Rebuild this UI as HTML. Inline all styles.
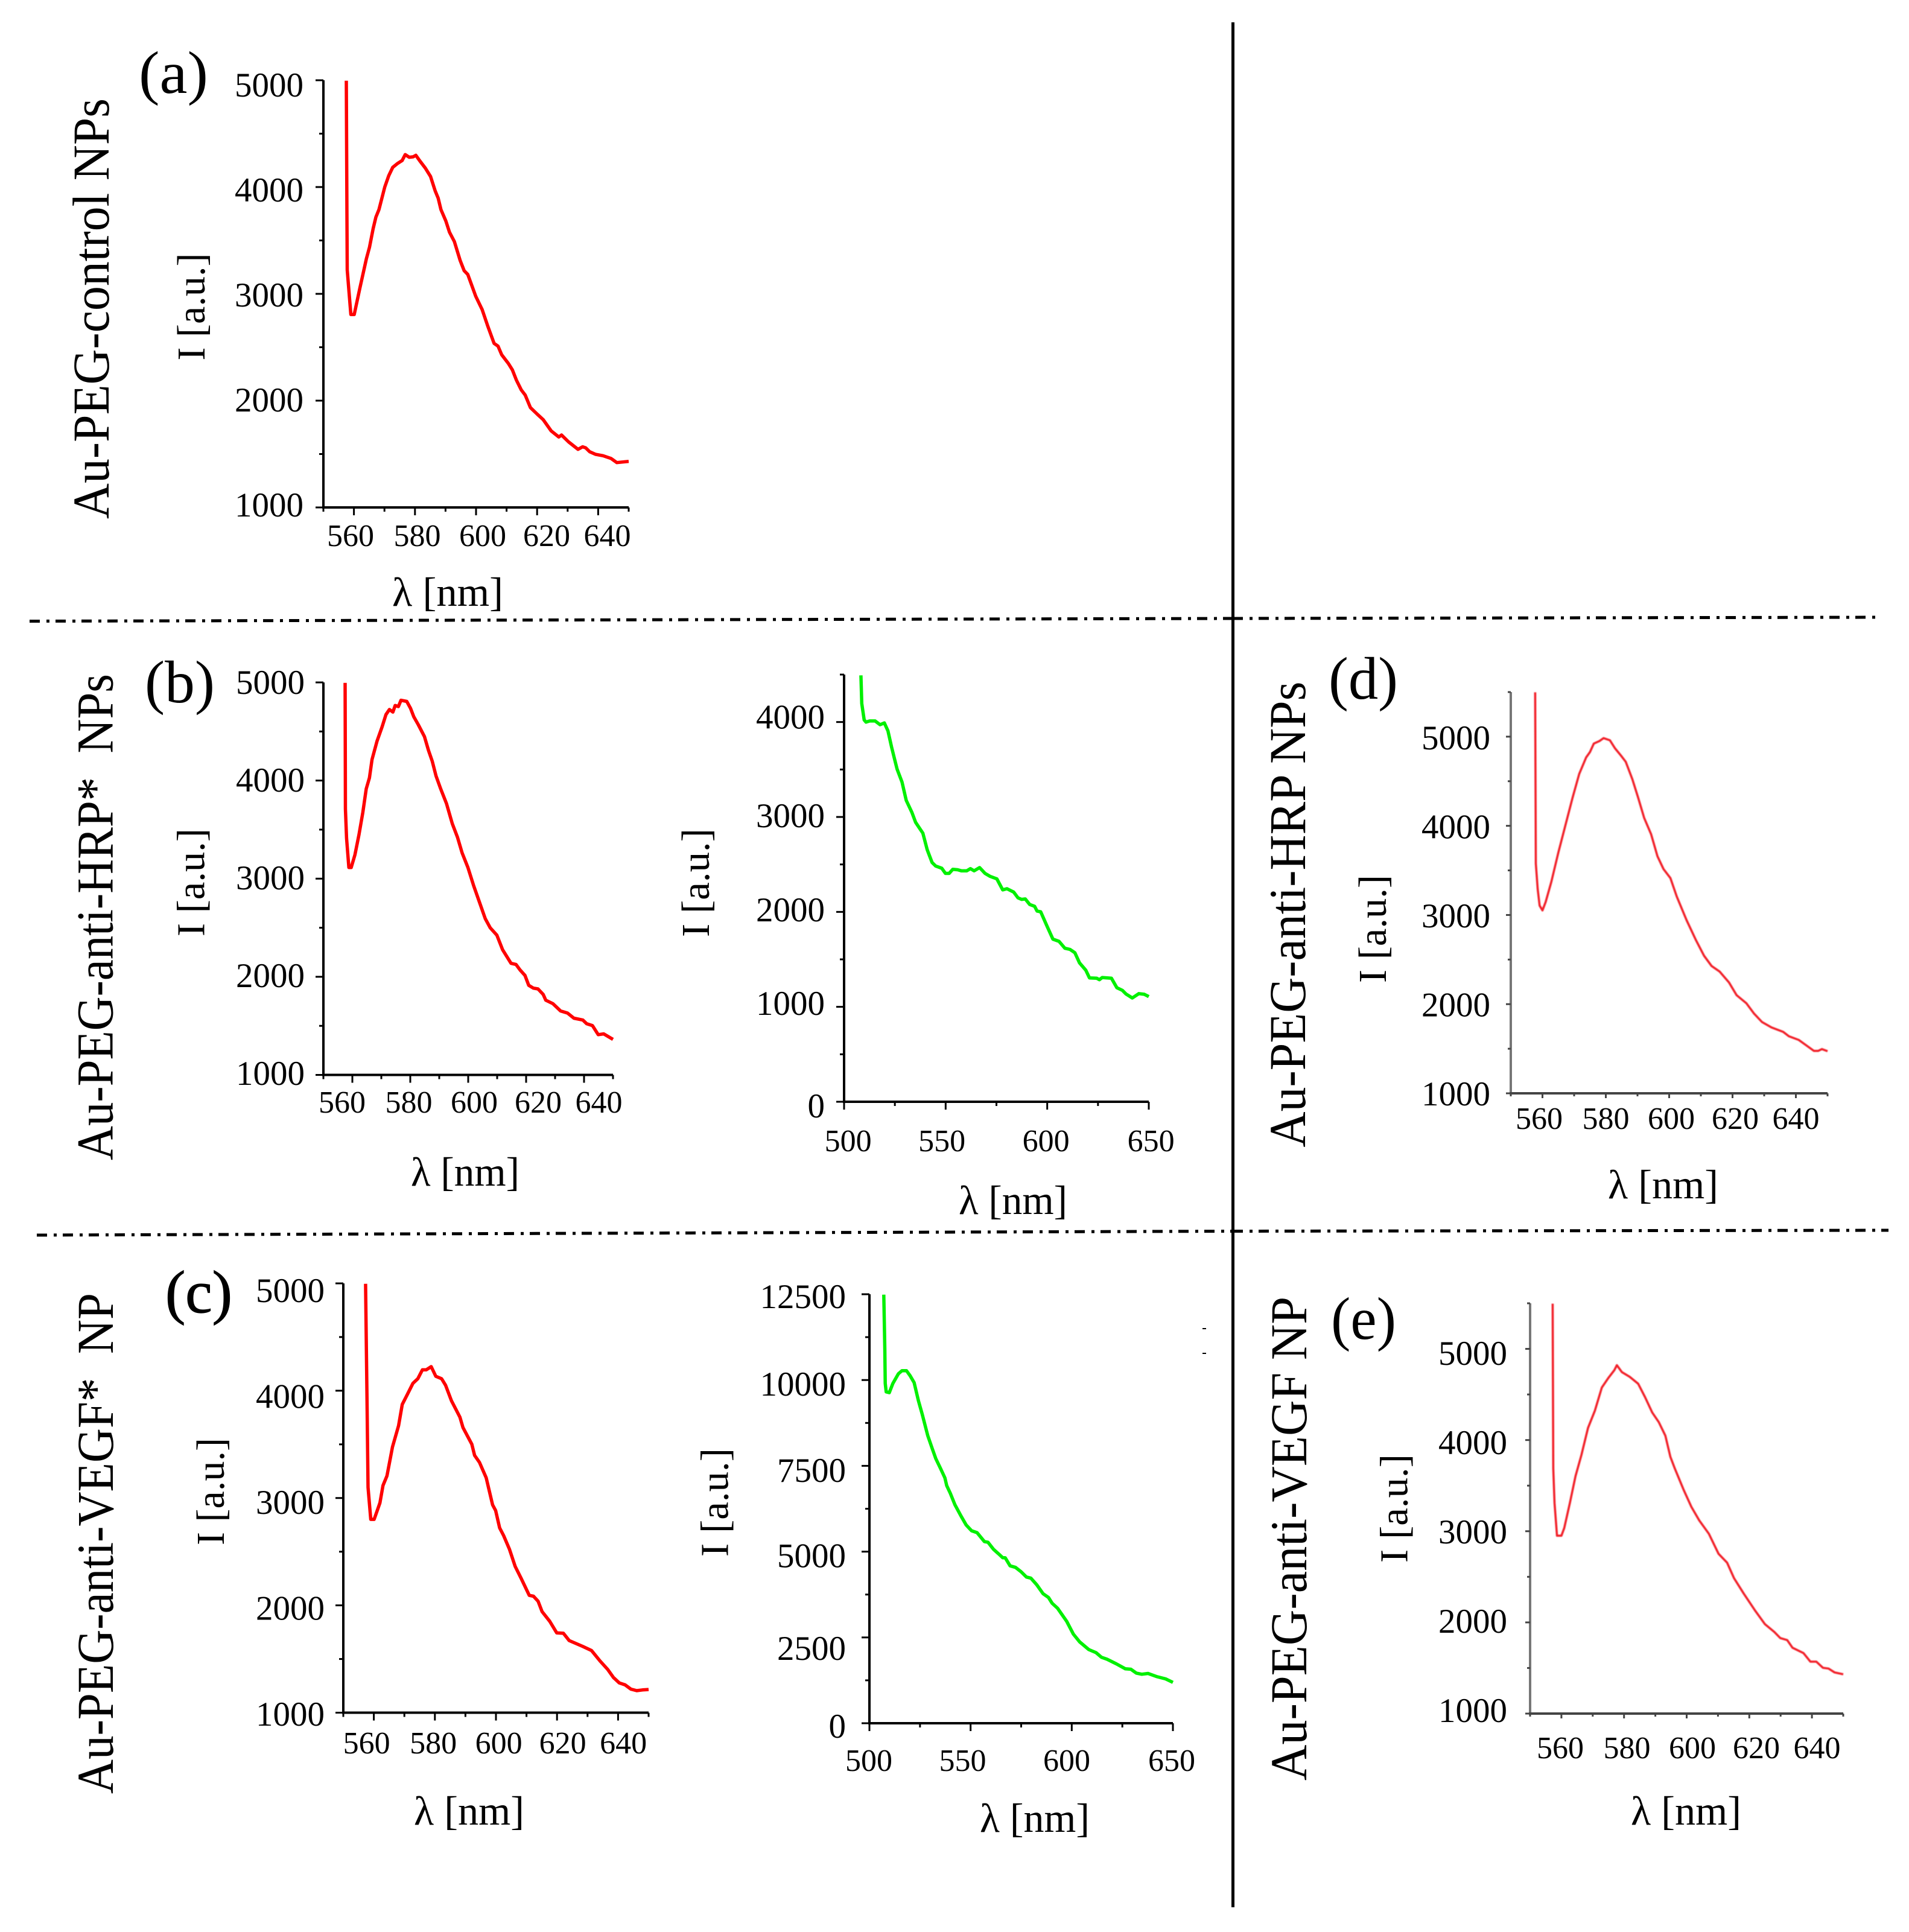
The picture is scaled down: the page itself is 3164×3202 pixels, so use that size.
<!DOCTYPE html>
<html>
<head>
<meta charset="utf-8">
<title>Fluorescence spectra of Au-PEG nanoparticles</title>
<style>
html,body{margin:0;padding:0;background:#fff;}
svg{display:block;}
text{font-family:"Liberation Serif",serif;fill:#000;}
</style>
</head>
<body>
<svg id="figure" width="3164" height="3202" viewBox="0 0 3164 3202" xmlns="http://www.w3.org/2000/svg">
<defs><filter id="soft" x="-5%" y="-5%" width="110%" height="110%"><feGaussianBlur stdDeviation="0.7"/></filter></defs>
<rect x="0" y="0" width="3164" height="3202" fill="#fff"/>

<line x1="2043.5" y1="37" x2="2043.5" y2="3161" stroke="#000" stroke-width="5"/>
<line x1="49" y1="1029.5" x2="2043" y2="1025" stroke="#000" stroke-width="5" stroke-dasharray="17 11 5 10"/>
<line x1="2043" y1="1025" x2="3116" y2="1023" stroke="#000" stroke-width="5" stroke-dasharray="17 11 5 10"/>
<line x1="61" y1="2047" x2="2043" y2="2040.5" stroke="#000" stroke-width="5" stroke-dasharray="17 11 5 10"/>
<line x1="2043" y1="2040.5" x2="3130" y2="2039" stroke="#000" stroke-width="5" stroke-dasharray="17 11 5 10"/>
<line x1="1993" y1="2202" x2="1999" y2="2202" stroke="#000" stroke-width="2"/>
<line x1="1993" y1="2243" x2="1999" y2="2243" stroke="#000" stroke-width="2"/>

<text transform="translate(180,860) rotate(-90)" font-size="86" textLength="697" lengthAdjust="spacingAndGlyphs">Au-PEG-control NPs</text>
<text transform="translate(186.5,1923) rotate(-90)" font-size="86" textLength="806" lengthAdjust="spacingAndGlyphs" xml:space="preserve">Au-PEG-anti-HRP*  NPs</text>
<text transform="translate(187,2973) rotate(-90)" font-size="86" textLength="830" lengthAdjust="spacingAndGlyphs" xml:space="preserve">Au-PEG-anti-VEGF*  NP</text>
<text transform="translate(2163,1901.5) rotate(-90)" font-size="86" textLength="772" lengthAdjust="spacingAndGlyphs">Au-PEG-anti-HRP NPs</text>
<text transform="translate(2165,2951) rotate(-90)" font-size="86" textLength="802" lengthAdjust="spacingAndGlyphs">Au-PEG-anti-VEGF NP</text>

<text x="230" y="154" font-size="100" textLength="115" lengthAdjust="spacingAndGlyphs">(a)</text>
<text x="240" y="1164" font-size="100" textLength="116" lengthAdjust="spacingAndGlyphs">(b)</text>
<text x="274" y="2175" font-size="100" stroke="#000" stroke-width="1.2" textLength="111" lengthAdjust="spacingAndGlyphs">(c)</text>
<text x="2202" y="1158" font-size="100" textLength="115" lengthAdjust="spacingAndGlyphs">(d)</text>
<text x="2206" y="2219" font-size="100" textLength="108" lengthAdjust="spacingAndGlyphs">(e)</text>

<text transform="translate(339,597.5) rotate(-90)" font-size="66" textLength="178" lengthAdjust="spacingAndGlyphs">I [a.u.]</text>
<text transform="translate(338.5,1552) rotate(-90)" font-size="66" textLength="179" lengthAdjust="spacingAndGlyphs">I [a.u.]</text>
<text transform="translate(1175,1553) rotate(-90)" font-size="66" textLength="180" lengthAdjust="spacingAndGlyphs">I [a.u.]</text>
<text transform="translate(2297,1629) rotate(-90)" font-size="66" textLength="179" lengthAdjust="spacingAndGlyphs">I [a.u.]</text>
<text transform="translate(371,2561) rotate(-90)" font-size="66" textLength="178" lengthAdjust="spacingAndGlyphs">I [a.u.]</text>
<text transform="translate(1206.5,2580) rotate(-90)" font-size="66" textLength="180" lengthAdjust="spacingAndGlyphs">I [a.u.]</text>
<text transform="translate(2332.5,2590) rotate(-90)" font-size="66" textLength="180" lengthAdjust="spacingAndGlyphs">I [a.u.]</text>

<text x="650" y="1004" font-size="68" textLength="184" lengthAdjust="spacingAndGlyphs">λ [nm]</text>
<text x="681" y="1965" font-size="68" textLength="180" lengthAdjust="spacingAndGlyphs">λ [nm]</text>
<text x="1589" y="2012" font-size="68" textLength="180" lengthAdjust="spacingAndGlyphs">λ [nm]</text>
<text x="2665" y="1986" font-size="68" textLength="183" lengthAdjust="spacingAndGlyphs">λ [nm]</text>
<text x="686" y="3024" font-size="68" textLength="183" lengthAdjust="spacingAndGlyphs">λ [nm]</text>
<text x="1624" y="3036" font-size="68" textLength="182" lengthAdjust="spacingAndGlyphs">λ [nm]</text>
<text x="2703" y="3024" font-size="68" textLength="183" lengthAdjust="spacingAndGlyphs">λ [nm]</text>

<g id="charts"></g>
</svg>

<script>
/* Shared tick values */
const redXTicks = [550,560,570,580,590,600,610,620,630,640,650];
const redXMajor = [560,580,600,620,640];
const redXLabels = ["560","580","600","620","640"];
const redYMajor = [1000,2000,3000,4000,5000];
const redYMinor = [1500,2500,3500,4500];
const redYLabels = ["1000","2000","3000","4000","5000"];
const tallRedYMinor = [1500,2500,3500,4500,5500];
const greenXTicks = [500,525,550,575,600,625,650];
const greenXMajor = [500,550,600,650];
const greenXLabels = ["500","550","600","650"];
const bGreenYMajor = [0,1000,2000,3000,4000];
const bGreenYMinor = [500,1500,2500,3500,4500];
const bGreenYLabels = ["0","1000","2000","3000","4000"];
const cGreenYMajor = [0,2500,5000,7500,10000,12500];
const cGreenYMinor = [1250,3750,6250,8750,11250];
const cGreenYLabels = ["0","2500","5000","7500","10000","12500"];

/* Panel (a) */
const aWavelength = [557.5,557.7,557.8,559.0,560.1,561.9,564.1,565.1,566.3,567.2,568.2,570.1,571.4,572.7,574.2,575.8,576.8,578.1,579.4,580.3,581.5,583.4,585.1,586.6,587.6,588.5,590.1,591.3,592.9,594.8,596.1,597.3,599.9,602.0,603.9,605.9,607.2,608.4,610.6,611.9,613.2,614.8,616.1,617.8,620.1,622.0,624.6,627.1,628.0,630.3,633.4,634.9,635.9,637.2,639.1,641.6,644.2,646.1,650];
const aIntensity = [4996,3753,3224,2807,2807,3047,3330,3436,3612,3718,3789,4000,4106,4184,4219,4248,4304,4279,4283,4297,4248,4177,4099,3965,3895,3789,3683,3577,3489,3312,3217,3182,2977,2853,2694,2536,2511,2430,2348,2288,2193,2101,2052,1935,1872,1822,1717,1660,1678,1614,1544,1568,1558,1522,1498,1484,1459,1420,1431];

/* Panel (b) red */
const bRedWavelength = [557.5,557.6,558.0,558.8,559.6,560.9,562.3,563.6,564.8,565.9,566.8,568.5,570.3,571.6,572.8,574.0,574.8,575.9,576.8,578.8,580.1,581.2,582.8,584.9,586.3,587.6,588.9,590.5,592.5,594.5,596.3,597.9,599.9,601.9,603.9,605.9,607.6,609.9,611.9,614.8,616.5,617.9,619.6,620.9,622.5,624.1,625.9,626.8,629.2,631.9,634.3,636.5,639.6,640.9,642.9,644.9,646.8,648.5,650];
const bRedIntensity = [4996,3710,3412,3114,3114,3244,3449,3673,3915,4027,4214,4400,4549,4672,4724,4698,4765,4754,4818,4806,4735,4650,4568,4448,4307,4195,4046,3915,3766,3561,3423,3263,3114,2927,2760,2592,2499,2424,2275,2137,2126,2070,2014,1913,1884,1876,1820,1761,1727,1652,1630,1578,1559,1522,1503,1410,1418,1388,1362];

/* Panel (b) green */
const bGreenWavelength = [508.3,508.7,509.9,510.8,512.6,515.3,517.7,519.8,521.6,523.4,525.2,526.1,528.5,530.6,533.4,535.2,538.8,540.9,543.3,545.1,548.1,549.9,551.7,553.5,555.9,557.7,560.4,562.2,564.0,566.7,569.4,571.8,575.2,578.1,580.2,583.5,585.6,587.4,589.2,591.4,593.8,595.0,596.8,599.7,602.8,605.8,608.7,611.2,613.6,615.9,619.0,620.8,624.4,625.7,627.1,631.6,634.3,637.0,638.8,641.9,645.1,647.8,650];
const bGreenIntensity = [4492,4195,4022,3999,4011,4011,3972,3991,3907,3734,3580,3503,3368,3175,3048,2944,2829,2656,2521,2483,2460,2406,2406,2448,2444,2433,2433,2456,2433,2467,2406,2375,2348,2232,2244,2209,2148,2132,2136,2078,2059,2009,2001,1859,1713,1690,1617,1605,1570,1463,1386,1305,1301,1286,1309,1301,1201,1174,1135,1093,1139,1132,1108];

/* Panel (d) */
const dWavelength = [557.7,557.9,558.5,559.1,560.0,561.0,562.8,565.0,567.1,569.5,571.6,573.8,575.0,576.2,578.0,579.3,581.3,582.9,584.8,586.3,588.4,590.2,592.1,594.3,596.3,598.2,600.4,602.4,605.5,608.5,611.0,613.4,615.9,618.9,621.3,624.4,626.8,629.3,632.3,636.0,637.8,640.9,643.3,645.7,647.0,648.2,650];
const dIntensity = [5497,3577,3289,3105,3052,3146,3372,3700,3987,4315,4582,4767,4828,4922,4951,4984,4959,4869,4787,4717,4520,4315,4090,3905,3659,3515,3413,3207,2941,2715,2543,2428,2366,2243,2100,2009,1894,1800,1739,1689,1640,1599,1537,1476,1476,1496,1472];

/* Panel (c) red */
const cRedWavelength = [557.3,557.8,558.1,559.0,560.1,562.0,563.0,564.3,566.1,568.1,569.3,570.9,572.8,574.4,575.9,577.2,578.8,580.3,582.2,583.5,585.4,588.2,589.2,592.1,593.0,594.6,596.8,598.9,599.9,601.2,602.5,604.4,606.3,608.2,610.9,612.3,613.8,615.1,617.6,619.9,622.1,624.0,628.4,631.3,634.1,636.6,638.5,640.4,642.3,644.2,646.1,648.0,650];
const cRedIntensity = [4996,3818,3099,2801,2801,2955,3117,3207,3476,3674,3872,3961,4069,4112,4195,4195,4224,4134,4112,4051,3908,3753,3656,3501,3397,3332,3189,2937,2883,2722,2650,2524,2362,2254,2093,2085,2039,1942,1852,1744,1740,1672,1618,1579,1482,1403,1327,1277,1259,1219,1205,1212,1216];

/* Panel (c) green */
const cGreenWavelength = [507.1,507.6,507.8,508.3,509.8,511.6,514.3,516.1,518.3,520.1,522.1,524.2,526.1,528.8,531.1,532.8,535.1,537.3,538.2,540.0,542.3,545.4,547.8,550.5,553.2,556.8,558.6,561.3,564.1,565.9,567.1,569.5,572.2,574.9,577.6,579.8,582.7,585.8,588.5,590.3,593.0,597.5,600.8,603.9,608.4,612.0,614.7,617.4,622.0,626.5,629.2,631.9,634.6,637.7,641.9,646.4,650];
const cGreenIntensity = [12488,10914,9902,9655,9633,9902,10183,10273,10273,10127,9925,9397,9003,8385,7992,7711,7430,7149,6924,6699,6362,6025,5777,5609,5553,5294,5272,5069,4923,4822,4822,4586,4541,4417,4260,4226,4035,3777,3664,3496,3350,2967,2596,2372,2147,2057,1922,1866,1731,1585,1574,1461,1427,1450,1360,1293,1191];

/* Panel (e) */
const eWavelength = [557.2,557.4,557.8,558.6,560.0,560.9,562.7,564.5,566.4,568.5,570.7,572.9,575.0,576.9,577.7,579.3,581.8,584.5,586.7,589.0,591.1,593.2,594.8,596.2,599.1,601.5,604.0,607.1,610.2,612.9,615.1,618.2,621.9,625.0,628.0,629.9,632.1,633.8,637.3,639.5,641.4,643.5,645.3,647.2,650];
const eIntensity = [5496,3689,3309,2951,2951,3035,3309,3605,3837,4133,4323,4576,4682,4766,4821,4745,4694,4618,4471,4302,4196,4048,3816,3689,3449,3267,3119,2972,2752,2655,2486,2317,2127,1980,1895,1828,1806,1722,1663,1570,1570,1502,1494,1452,1431];

const SVG_NS = 'http://www.w3.org/2000/svg';
const root = document.getElementById('charts');

function makeScale(d0, d1, r0, r1) {
  return function (v) { return r0 + (v - d0) / (d1 - d0) * (r1 - r0); };
}

function drawSegment(parent, x1, y1, x2, y2, color, width) {
  const el = document.createElementNS(SVG_NS, 'line');
  el.setAttribute('x1', x1);
  el.setAttribute('y1', y1);
  el.setAttribute('x2', x2);
  el.setAttribute('y2', y2);
  el.setAttribute('stroke', color);
  el.setAttribute('stroke-width', width);
  parent.appendChild(el);
  return el;
}

function drawLabel(parent, x, y, size, anchor, content) {
  const el = document.createElementNS(SVG_NS, 'text');
  el.setAttribute('x', x);
  el.setAttribute('y', y);
  el.setAttribute('font-size', size);
  el.setAttribute('text-anchor', anchor);
  el.textContent = content;
  parent.appendChild(el);
  return el;
}

function drawPanel(p) {
  const g = document.createElementNS(SVG_NS, 'g');
  
  
  root.appendChild(g);

  const sx = makeScale(p.xDomain[0], p.xDomain[1], p.left, p.right);
  const sy = makeScale(p.yDomain[0], p.yDomain[1], p.bottom, p.top);

  const yAxis = drawSegment(g, p.left, p.top, p.left, p.bottom + p.axisW / 2, p.yAxisColor, p.axisW);
  
  
  const xAxis = drawSegment(g, p.left - p.axisW / 2, p.bottom, p.right, p.bottom, p.xAxisColor, p.axisW);
  
  

  p.xTicks.forEach(function (v) {
    const len = p.xMajor.indexOf(v) >= 0 ? p.tickMajor : p.tickMinor;
    const t = drawSegment(g, sx(v), p.bottom, sx(v), p.bottom + len, p.tickColor, p.tickW);
    
    
  });
  p.yMajor.forEach(function (v) {
    const t = drawSegment(g, p.left - p.tickMajor, sy(v), p.left, sy(v), p.tickColor, p.tickW);
    
    
  });
  p.yMinor.forEach(function (v) {
    const t = drawSegment(g, p.left - p.tickMinor, sy(v), p.left, sy(v), p.tickColor, p.tickW);
    
    
  });

  p.xLabels.forEach(function (s, i) {
    const t = drawLabel(g, p.xLabelStart + p.xLabelOffsets[i], p.xLabelBase, 52, 'middle', s);
    
    
  });
  p.yLabels.forEach(function (s, i) {
    const up = p.yLabelOffsets ? p.yLabelOffsets[i] : i * p.yLabelStep;
    const t = drawLabel(g, p.yLabelRight, p.yLabelBottom - up, 57, 'end', s);
    
    
  });

  let d = '';
  p.wavelength.forEach(function (w, i) {
    d += (i ? 'L' : 'M') + sx(w).toFixed(1) + ' ' + sy(p.intensity[i]).toFixed(1);
  });
  const line = document.createElementNS(SVG_NS, 'path');
  line.setAttribute('d', d);
  line.setAttribute('fill', 'none');
  line.setAttribute('stroke', p.color);
  line.setAttribute('stroke-width', p.lineW);
  line.setAttribute('stroke-linejoin', 'round');
  if (p.soft) line.setAttribute('filter', 'url(#soft)');
  
  
  g.appendChild(line);
}

const crispAxes = { axisW: 4, yAxisColor: '#000', xAxisColor: '#000', tickColor: '#000', tickW: 3, tickMajor: 13, tickMinor: 7 };
const softAxes = { axisW: 4, yAxisColor: '#777', xAxisColor: '#444', tickColor: '#444', tickW: 3, tickMajor: 8, tickMinor: 5, soft: true };
const redPanel = { xDomain: [550, 650], xTicks: redXTicks, xMajor: redXMajor, xLabels: redXLabels, yMajor: redYMajor, yLabels: redYLabels, xLabelOffsets: [0, 110.5, 219, 325, 425.5] };
const greenPanel = { xDomain: [500, 650], xTicks: greenXTicks, xMajor: greenXMajor, xLabels: greenXLabels, xLabelOffsets: [0, 155.5, 328, 502] };

drawPanel(Object.assign({}, redPanel, crispAxes, {
  id: 'a', wavelength: aWavelength, intensity: aIntensity, color: '#ff0000', lineW: 5.5,
  yDomain: [1000, 5000], yMinor: redYMinor,
  left: 536, right: 1042, top: 133, bottom: 841,
  xLabelStart: 581, xLabelBase: 905, yLabelRight: 503, yLabelBottom: 856, yLabelStep: 174
}));
drawPanel(Object.assign({}, redPanel, crispAxes, {
  id: 'b-red', wavelength: bRedWavelength, intensity: bRedIntensity, color: '#ff0000', lineW: 5.5,
  yDomain: [1000, 5000], yMinor: redYMinor,
  left: 536, right: 1016, top: 1131, bottom: 1781.5,
  xLabelStart: 567, xLabelBase: 1844, yLabelRight: 505, yLabelBottom: 1798, yLabelStep: 162
}));
drawPanel(Object.assign({}, greenPanel, crispAxes, {
  id: 'b-green', wavelength: bGreenWavelength, intensity: bGreenIntensity, color: '#00f000', lineW: 5.5,
  yDomain: [0, 4500], yMajor: bGreenYMajor, yMinor: bGreenYMinor, yLabels: bGreenYLabels,
  left: 1399, right: 1904, top: 1118, bottom: 1826,
  xLabelStart: 1405.6, xLabelBase: 1908, yLabelRight: 1367, yLabelBottom: 1852, yLabelOffsets: [0, 170, 325, 481, 644.5]
}));
drawPanel(Object.assign({}, redPanel, softAxes, {
  id: 'd', wavelength: dWavelength, intensity: dIntensity, color: '#f2202c', lineW: 3.6,
  yDomain: [1000, 5500], yMinor: tallRedYMinor,
  left: 2504, right: 3029, top: 1147, bottom: 1812,
  xLabelStart: 2551, xLabelBase: 1871, yLabelRight: 2470, yLabelBottom: 1832, yLabelStep: 147.5
}));
drawPanel(Object.assign({}, redPanel, crispAxes, {
  id: 'c-red', wavelength: cRedWavelength, intensity: cRedIntensity, color: '#ff0000', lineW: 5.5,
  yDomain: [1000, 5000], yMinor: redYMinor,
  left: 569, right: 1075, top: 2127, bottom: 2838.5,
  xLabelStart: 607.6, xLabelBase: 2906, yLabelRight: 538, yLabelBottom: 2860, yLabelStep: 175.5
}));
drawPanel(Object.assign({}, greenPanel, crispAxes, {
  id: 'c-green', wavelength: cGreenWavelength, intensity: cGreenIntensity, color: '#00f000', lineW: 5.5,
  yDomain: [0, 12500], yMajor: cGreenYMajor, yMinor: cGreenYMinor, yLabels: cGreenYLabels,
  left: 1441, right: 1944, top: 2145, bottom: 2856,
  xLabelStart: 1440, xLabelBase: 2935, yLabelRight: 1402, yLabelBottom: 2880, yLabelOffsets: [0, 129, 282.5, 424, 567, 712]
}));
drawPanel(Object.assign({}, redPanel, softAxes, {
  id: 'e', wavelength: eWavelength, intensity: eIntensity, color: '#f2202c', lineW: 3.6,
  yDomain: [1000, 5500], yMinor: tallRedYMinor,
  left: 2536, right: 3055, top: 2160, bottom: 2840,
  xLabelStart: 2586, xLabelBase: 2914, yLabelRight: 2498, yLabelBottom: 2854, yLabelStep: 148
}));
</script>
</body>
</html>
